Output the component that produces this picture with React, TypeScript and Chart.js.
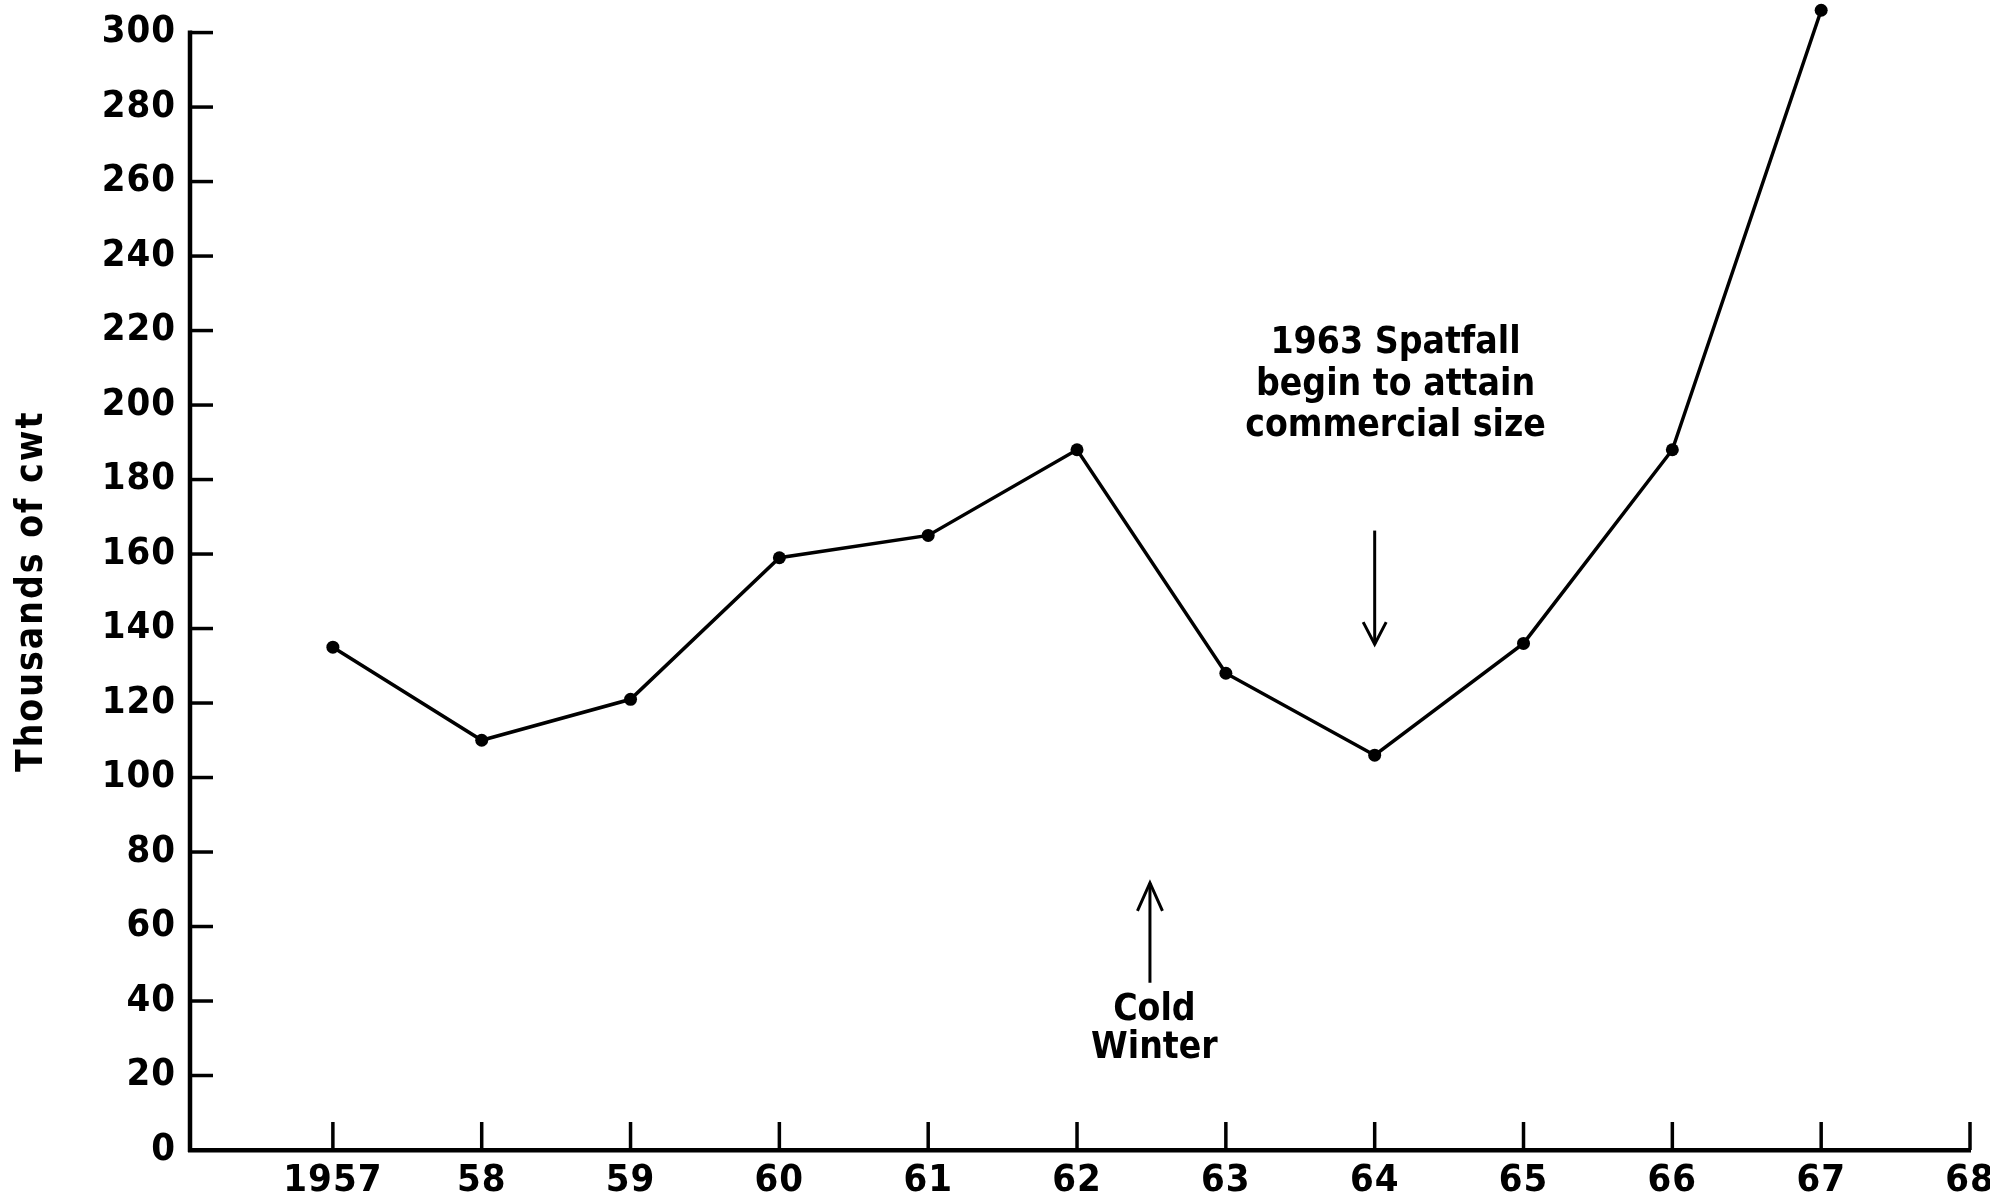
import React, { useEffect, useRef } from 'react';
import { Chart, registerables } from 'chart.js';

Chart.register(...registerables);

// ---- data ----
const years = [1957, 1958, 1959, 1960, 1961, 1962, 1963, 1964, 1965, 1966, 1967];
const landings = [135, 110, 121, 159, 165, 188, 128, 106, 136, 188, 306];
const xTickValues = [1957, 1958, 1959, 1960, 1961, 1962, 1963, 1964, 1965, 1966, 1967, 1968];
const xTickLabels = ['1957', '58', '59', '60', '61', '62', '63', '64', '65', '66', '67', '68'];
const yTickValues = [0, 20, 40, 60, 80, 100, 120, 140, 160, 180, 200, 220, 240, 260, 280, 300];
const yTitle = 'Thousands of cwt';
const spatfallNote = ['1963 Spatfall', 'begin to attain', 'commercial size'];
const coldNote = ['Cold', 'Winter'];

const FONT = "'DejaVu Sans Condensed', 'DejaVu Sans', sans-serif";

function drawArrow(ctx, x, yFrom, yTo, headW, headH) {
  ctx.beginPath();
  ctx.moveTo(x, yFrom);
  ctx.lineTo(x, yTo);
  ctx.stroke();
  const dir = yTo > yFrom ? -1 : 1;
  ctx.beginPath();
  ctx.moveTo(x - headW / 2, yTo + dir * headH);
  ctx.lineTo(x, yTo);
  ctx.lineTo(x + headW / 2, yTo + dir * headH);
  ctx.stroke();
}

const decorPlugin = {
  id: 'decor',
  beforeDraw(chart) {
    chart.ctx.letterSpacing = '1px';
  },
  afterDatasetsDraw(chart) {
    const { ctx, chartArea } = chart;
    const x = chart.scales.x;
    const y = chart.scales.y;
    ctx.save();
    ctx.strokeStyle = '#000';
    ctx.fillStyle = '#000';
    ctx.lineCap = 'butt';
    // y axis line from 0 to 300 with the top tick
    ctx.lineWidth = 4.5;
    const axX = chartArea.left;
    ctx.beginPath();
    ctx.moveTo(axX, y.getPixelForValue(0) + 2);
    ctx.lineTo(axX, y.getPixelForValue(300) - 2);
    ctx.stroke();
    // inward tick marks
    ctx.lineWidth = 3.5;
    for (const v of yTickValues) {
      if (v === 0) continue;
      const py = y.getPixelForValue(v);
      ctx.beginPath();
      ctx.moveTo(axX, py);
      ctx.lineTo(axX + 23, py);
      ctx.stroke();
    }
    for (const v of xTickValues) {
      const px = x.getPixelForValue(v);
      const by = y.getPixelForValue(0);
      ctx.beginPath();
      ctx.moveTo(px, by);
      ctx.lineTo(px, by - 28);
      ctx.stroke();
    }
    // annotations
    ctx.lineWidth = 3;
    drawArrow(ctx, x.getPixelForValue(1964), y.getPixelForValue(166.3), y.getPixelForValue(135.8), 23, 22);
    drawArrow(ctx, x.getPixelForValue(1962.49), y.getPixelForValue(44.9), y.getPixelForValue(71.7), 25, 28);

    ctx.letterSpacing = '0px';
    ctx.font = `bold 37px ${FONT}`;
    ctx.textAlign = 'center';
    ctx.textBaseline = 'middle';
    const spY = [216.6, 205.3, 194.4];
    spatfallNote.forEach((t, i) => {
      ctx.fillText(t, x.getPixelForValue(1964.14), y.getPixelForValue(spY[i]));
    });
    const cY = [37.6, 27.2];
    coldNote.forEach((t, i) => {
      ctx.fillText(t, x.getPixelForValue(1962.52), y.getPixelForValue(cY[i]));
    });

    // y-axis title
    ctx.letterSpacing = '2px';
    ctx.translate(32, y.getPixelForValue(150));
    ctx.rotate(-Math.PI / 2);
    ctx.fillText(yTitle, 0, 0);
    ctx.restore();
  },
};

export default function App() {
  const ref = useRef(null);
  useEffect(() => {
    Chart.defaults.font.family = FONT;
    Chart.defaults.color = '#000';
    const chart = new Chart(ref.current, {
      type: 'line',
      data: {
        datasets: [
          {
            data: years.map((yr, i) => ({ x: yr, y: landings[i] })),
            borderColor: '#000',
            backgroundColor: '#000',
            borderWidth: 3.5,
            pointRadius: 6.5,
            pointBackgroundColor: '#000',
            pointBorderWidth: 0,
            tension: 0,
            clip: false,
          },
        ],
      },
      options: {
        animation: false,
        responsive: true,
        maintainAspectRatio: false,
        layout: { padding: { top: 2, right: 20, bottom: 0, left: 0 } },
        plugins: { legend: { display: false }, tooltip: { enabled: false } },
        scales: {
          x: {
            type: 'linear',
            min: 1956.04,
            max: 1968,
            afterBuildTicks: (scale) => {
              scale.ticks = xTickValues.map((v) => ({ value: v }));
            },
            afterFit: (scale) => {
              scale.height = 53;
              scale.paddingLeft = 0;
              scale.paddingRight = 0;
            },
            grid: { display: false, drawTicks: false },
            border: { display: true, color: '#000', width: 4.5 },
            ticks: {
              autoSkip: false,
              maxRotation: 0,
              padding: 8,
              font: { size: 38, weight: 'bold' },
              callback: (v) => {
                const idx = xTickValues.indexOf(v);
                return idx >= 0 ? xTickLabels[idx] : '';
              },
            },
          },
          y: {
            type: 'linear',
            min: 0,
            max: 307,
            afterBuildTicks: (scale) => {
              scale.ticks = yTickValues.map((v) => ({ value: v }));
            },
            afterFit: (scale) => {
              scale.width = 190;
              scale.paddingTop = 0;
              scale.paddingBottom = 0;
            },
            grid: { display: false, drawTicks: false },
            border: { display: false },
            ticks: {
              padding: 14,
              font: { size: 38, weight: 'bold' },
              callback: (v) => String(v),
            },
          },
        },
      },
      plugins: [decorPlugin],
    });
    return () => chart.destroy();
  }, []);
  return (
    <div style={{ position: 'fixed', left: 0, top: 0, width: 1990, height: 1203, background: '#fff' }}>
      <canvas ref={ref} />
    </div>
  );
}
